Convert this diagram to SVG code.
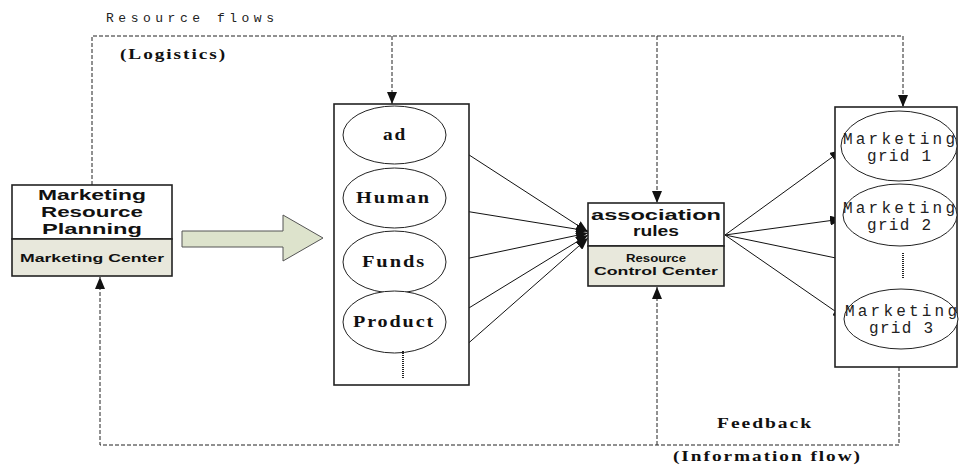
<svg xmlns="http://www.w3.org/2000/svg" width="960" height="466" viewBox="0 0 960 466">
  <style>
    .box { fill: #ffffff; stroke: #222; stroke-width: 1.6; }
    .band { fill: #e8e8dc; stroke: #222; stroke-width: 1.6; }
    .ell { fill: #ffffff; stroke: #222; stroke-width: 1; }
    .dash { fill: none; stroke: #222; stroke-width: 1; stroke-dasharray: 4 2; }
    .link { fill: none; stroke: #111; stroke-width: 1; }
    .dots { stroke: #222; stroke-width: 2; stroke-dasharray: 1 1; }
    .sans { font-family: "Liberation Sans", Arial, sans-serif; font-weight: bold; fill: #111; text-anchor: middle; }
    .serif { font-family: "Liberation Serif", "Times New Roman", serif; font-weight: bold; fill: #111; letter-spacing: 1.5px; }
    .mono { font-family: "Liberation Mono", "Courier New", monospace; fill: #222; }
  </style>
  <defs>
    <marker id="tip" viewBox="0 0 12 10" refX="12" refY="5" markerWidth="12" markerHeight="10" markerUnits="userSpaceOnUse" orient="auto">
      <path d="M0,0 L12,5 L0,10 z" fill="#111"/>
    </marker>
  </defs>

  <!-- flow labels -->
  <text class="mono" x="106" y="22" font-size="13" textLength="168" lengthAdjust="spacing">Resource flows</text>
  <text class="serif" x="120" y="59" font-size="15" textLength="107" lengthAdjust="spacingAndGlyphs">(Logistics)</text>
  <text class="serif" x="717" y="428" font-size="15" textLength="96" lengthAdjust="spacingAndGlyphs">Feedback</text>
  <text class="serif" x="673" y="461" font-size="15" textLength="189" lengthAdjust="spacingAndGlyphs">(Information flow)</text>

  <g id="connectors">
    <!-- resource flow (logistics), dashed along the top -->
    <path class="dash" d="M92,185 V36 H903 V107"/>
    <path class="dash" d="M392,36 V104" marker-end="url(#tip)"/>
    <path class="dash" d="M657,36 V203" marker-end="url(#tip)"/>
    <path class="dash" d="M903,96 V107" marker-end="url(#tip)"/>
    <!-- feedback (information flow), dashed along the bottom -->
    <path class="dash" d="M899,367 V445 H100 V277" marker-end="url(#tip)"/>
    <path class="dash" d="M657,445 V287" marker-end="url(#tip)"/>
    <!-- resources into the association rules -->
    <line class="link" x1="446" y1="140" x2="588" y2="232" marker-end="url(#tip)"/>
    <line class="link" x1="446" y1="208" x2="588" y2="231" marker-end="url(#tip)"/>
    <line class="link" x1="446" y1="263" x2="588" y2="233" marker-end="url(#tip)"/>
    <line class="link" x1="446" y1="322" x2="588" y2="235" marker-end="url(#tip)"/>
    <line class="link" x1="447" y1="362" x2="588" y2="238" marker-end="url(#tip)"/>
    <!-- association rules out to the marketing grids -->
    <line class="link" x1="725" y1="235" x2="842" y2="150" marker-end="url(#tip)"/>
    <line class="link" x1="725" y1="235" x2="842" y2="219" marker-end="url(#tip)"/>
    <line class="link" x1="725" y1="235" x2="860" y2="263" marker-end="url(#tip)"/>
    <line class="link" x1="725" y1="235" x2="845" y2="318" marker-end="url(#tip)"/>
    <!-- block arrow from planning to resources -->
    <path d="M182,231 H283 V215 L323,238 L283,261 V247 H182 Z" fill="#dde3cc" stroke="#555" stroke-width="1"/>
  </g>

  <g id="marketing-center">
    <rect class="box" x="12" y="185" width="160" height="54"/>
    <rect class="band" x="12" y="239" width="160" height="37"/>
    <text class="sans" x="92" y="200" font-size="15.5" textLength="108" lengthAdjust="spacingAndGlyphs">Marketing</text>
    <text class="sans" x="92" y="217" font-size="15.5" textLength="102" lengthAdjust="spacingAndGlyphs">Resource</text>
    <text class="sans" x="92" y="234" font-size="15.5" textLength="100" lengthAdjust="spacingAndGlyphs">Planning</text>
    <text class="sans" x="92" y="262" font-size="11.5" textLength="144" lengthAdjust="spacingAndGlyphs">Marketing Center</text>
  </g>

  <g id="resources">
    <rect class="box" x="334" y="104" width="135" height="281"/>
    <ellipse class="ell" cx="394.5" cy="135" rx="51.5" ry="29"/>
    <ellipse class="ell" cx="394.5" cy="198" rx="51.5" ry="30"/>
    <ellipse class="ell" cx="394.5" cy="262" rx="51.5" ry="31"/>
    <ellipse class="ell" cx="394.5" cy="322" rx="51.5" ry="31"/>
    <line class="dots" x1="403" y1="351" x2="403" y2="378"/>
    <text class="serif" x="383" y="140" font-size="16" textLength="24" lengthAdjust="spacingAndGlyphs">ad</text>
    <text class="serif" x="356" y="203" font-size="16" textLength="75" lengthAdjust="spacingAndGlyphs">Human</text>
    <text class="serif" x="362" y="267" font-size="16" textLength="64" lengthAdjust="spacingAndGlyphs">Funds</text>
    <text class="serif" x="353" y="327" font-size="16" textLength="82" lengthAdjust="spacingAndGlyphs">Product</text>
  </g>

  <g id="resource-control-center">
    <rect class="box" x="588" y="203" width="136" height="43"/>
    <rect class="band" x="588" y="246" width="136" height="40"/>
    <text class="sans" x="656" y="220" font-size="15.5" textLength="130" lengthAdjust="spacingAndGlyphs">association</text>
    <text class="sans" x="656" y="236" font-size="15.5" textLength="46" lengthAdjust="spacingAndGlyphs">rules</text>
    <text class="sans" x="656" y="262" font-size="11" textLength="60" lengthAdjust="spacingAndGlyphs">Resource</text>
    <text class="sans" x="656" y="275" font-size="11" textLength="124" lengthAdjust="spacingAndGlyphs">Control Center</text>
  </g>

  <g id="marketing-grids">
    <rect class="box" x="835" y="107" width="122" height="260"/>
    <ellipse class="ell" cx="899" cy="146" rx="58" ry="35"/>
    <ellipse class="ell" cx="900" cy="215" rx="57" ry="31"/>
    <ellipse class="ell" cx="901" cy="319" rx="57" ry="30"/>
    <line class="dots" x1="903" y1="253" x2="903" y2="279"/>
    <text class="mono" x="843" y="144" font-size="16" textLength="112" lengthAdjust="spacing">Marketing</text>
    <text class="mono" x="867" y="161" font-size="16" textLength="64" lengthAdjust="spacing">grid 1</text>
    <text class="mono" x="843" y="213" font-size="16" textLength="112" lengthAdjust="spacing">Marketing</text>
    <text class="mono" x="867" y="230" font-size="16" textLength="64" lengthAdjust="spacing">grid 2</text>
    <text class="mono" x="845" y="316" font-size="16" textLength="112" lengthAdjust="spacing">Marketing</text>
    <text class="mono" x="869" y="333" font-size="16" textLength="64" lengthAdjust="spacing">grid 3</text>
  </g>
</svg>
